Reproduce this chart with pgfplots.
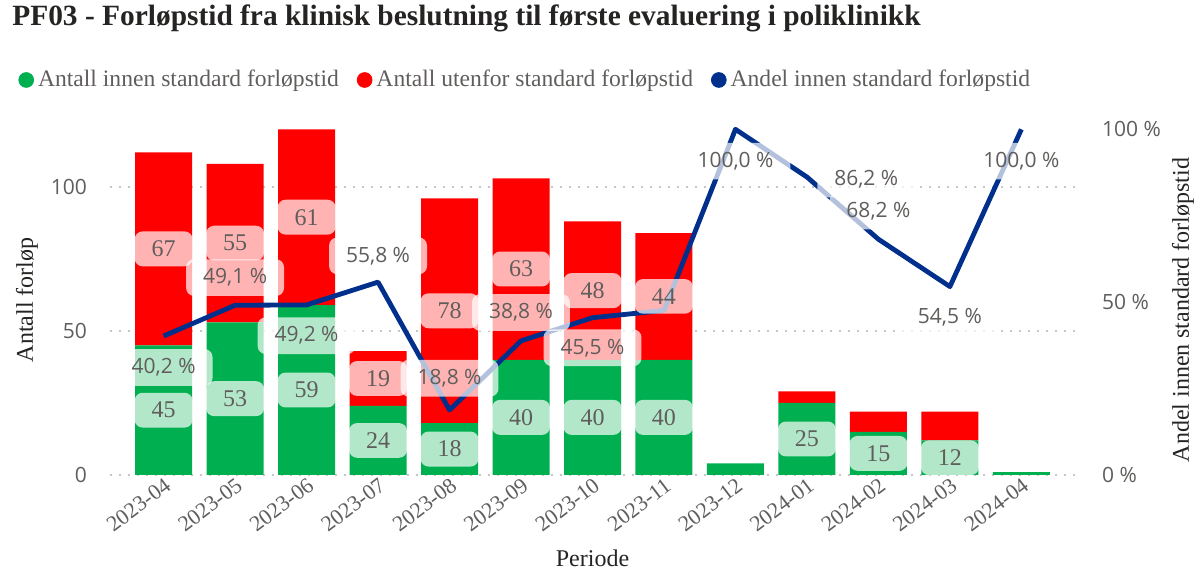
\documentclass[border=0pt]{standalone}
\usepackage{pgfplots}
\pgfplotsset{compat=1.18}
\usepackage{pgfplotstable}
\usepackage{fontspec}
\setmainfont{Liberation Serif}
\newfontfamily\numfont{Open Sans}
\definecolor{pbgreen}{RGB}{0,176,80}
\definecolor{pbred}{RGB}{255,0,0}
\definecolor{pbblue}{RGB}{0,48,140}
\definecolor{txtgrey}{RGB}{96,94,92}
\definecolor{titlegrey}{RGB}{37,36,35}
\definecolor{gridgrey}{RGB}{200,198,196}

\pgfplotstableread{
x green red share
0 45 67 40.2
1 53 55 49.1
2 59 61 49.2
3 24 19 55.8
4 18 78 18.8
5 40 63 38.8
6 40 48 45.5
7 40 44 47.6
8 4 0 100.0
9 25 4 86.2
10 15 7 68.2
11 12 10 54.5
12 1 0 100.0
}\data

\pgfplotstableread{
x pos val
0 22.5 45
1 26.5 53
2 29.5 59
3 12 24
4 9 18
5 20 40
6 20 40
7 20 40
9 12.5 25
10 7.5 15
11 6 12
}\greenlab

\pgfplotstableread{
x pos val
0 78.5 67
1 80.5 55
2 89.5 61
3 33.5 19
4 57 78
5 71.5 63
6 64 48
7 62 44
}\redlab

\pgfplotstableread{
x pos val
0 31.1 40.2
1 57.1 49.1
2 40.3 49.2
3 63.4 55.8
4 28.0 18.8
5 47.0 38.8
6 36.8 45.5
8 90.8 100.0
9.83 85.6 86.2
10 76.4 68.2
11 45.5 54.5
12 90.8 100.0
}\linelab

\pgfplotsset{
  base/.style={
    scale only axis, width=482.5pt, height=175pt,
    at={(0pt,0pt)}, anchor=south west,
    xmin=-0.75, xmax=12.75, ymin=0,
    axis line style={draw=none}, major tick length=0pt,
    tick label style={font=\numfont\fontsize{10.5}{12}\selectfont, text=txtgrey},
    /pgf/number format/assume math mode=true,
    clip=false,
  },
  lab/.style={
    draw=none, mark=none, nodes near coords, point meta=explicit,
    nodes near coords align={anchor=center},
    every node near coord/.append style={fill=white, fill opacity=0.7, text opacity=1,
      text=txtgrey, rounded corners=4pt, inner xsep=8.5pt, inner ysep=4.7pt, anchor=center},
  },
}

\begin{document}
\begin{tikzpicture}
\useasboundingbox (-55pt,-49pt) rectangle (545pt,237.5pt);
% axis 1: bars
\begin{axis}[base, ymax=121.5,
  ytick={0,50,100},
  yticklabel style={xshift=-8pt},
  ymajorgrids,
  grid style={gridgrey, line width=1.1pt, dash pattern=on 1.1pt off 3.4pt},
  xtick={0,...,12},
  xticklabels={2023-04,2023-05,2023-06,2023-07,2023-08,2023-09,2023-10,2023-11,2023-12,2024-01,2024-02,2024-03,2024-04},
  xticklabel style={rotate=37, anchor=north east, font=\fontsize{11}{13}\selectfont, text=txtgrey, yshift=1pt, xshift=1pt, inner sep=1.5pt},
  xlabel={Periode}, ylabel={Antall forløp},
  every axis x label/.style={at={(axis description cs:0.5,0)}, anchor=center, yshift=-41.5pt, font=\fontsize{12}{14}\selectfont, text=titlegrey},
  every axis y label/.style={at={(axis description cs:0,0.5)}, xshift=-41.5pt, rotate=90, anchor=center, font=\fontsize{12}{14}\selectfont, text=titlegrey},
  title={PF03 - Forløpstid fra klinisk beslutning til første evaluering i poliklinikk},
  title style={at={(axis description cs:-0.1016,1.271)}, anchor=west, yshift=0pt, font=\bfseries\fontsize{14.7}{17}\selectfont, text=titlegrey, inner sep=0pt},
  ybar stacked, bar width=28.5pt,
  legend columns=3,
  legend style={at={(axis description cs:-0.0953,1.1286)}, anchor=west, draw=none, fill=none, inner sep=0pt,
    font=\fontsize{11.8}{14}\selectfont, text=txtgrey,
    /tikz/every even column/.append style={column sep=7pt}},
  legend cell align=left,
]
\addplot[fill=pbgreen, draw=none, forget plot] table[x=x, y=green]{\data};
\addplot[fill=pbred, draw=none, forget plot] table[x=x, y=red]{\data};
\addlegendimage{legend image code/.code={\fill[pbgreen] (3.7pt,0pt) circle (3.7pt);}}
\addlegendentry{Antall innen standard forløpstid}
\addlegendimage{legend image code/.code={\fill[pbred] (3.7pt,0pt) circle (3.7pt);}}
\addlegendentry{Antall utenfor standard forløpstid}
\addlegendimage{legend image code/.code={\fill[pbblue] (3.7pt,0pt) circle (3.7pt);}}
\addlegendentry{Andel innen standard forløpstid}
\end{axis}
% axis 2: line, right axis
\begin{axis}[base, ymax=101.25,
  axis y line*=right, axis x line=none,
  ytick={0,50,100},
  yticklabel={\pgfmathprintnumber{\tick}~\%},
  yticklabel style={xshift=10pt, anchor=west},
  ylabel={Andel innen standard forløpstid},
  every axis y label/.style={at={(axis description cs:1,0.5)}, xshift=54pt, yshift=-5pt, rotate=90, anchor=center, font=\fontsize{12}{14}\selectfont, text=titlegrey},
]
\addplot[pbblue, line width=2.4pt, line join=round, mark=none] table[x=x, y=share]{\data};
\end{axis}
% axis 3: bar labels
\begin{axis}[base, ymax=121.5, hide axis]
\addplot[lab, nodes near coords style={font=\fontsize{12}{14}\selectfont}] table[x=x, y=pos, meta=val]{\greenlab};
\addplot[lab, nodes near coords style={font=\fontsize{12}{14}\selectfont}] table[x=x, y=pos, meta=val]{\redlab};
\end{axis}
% axis 4: line labels
\begin{axis}[base, ymax=101.25, hide axis]
\addplot[lab, nodes near coords={\pgfmathprintnumber[fixed,fixed zerofill,precision=1,use comma]{\pgfplotspointmeta}~\%},
  nodes near coords style={font=\numfont\fontsize{10.5}{12}\selectfont}] table[x=x, y=pos, meta=val]{\linelab};
\end{axis}
\end{tikzpicture}
\end{document}
